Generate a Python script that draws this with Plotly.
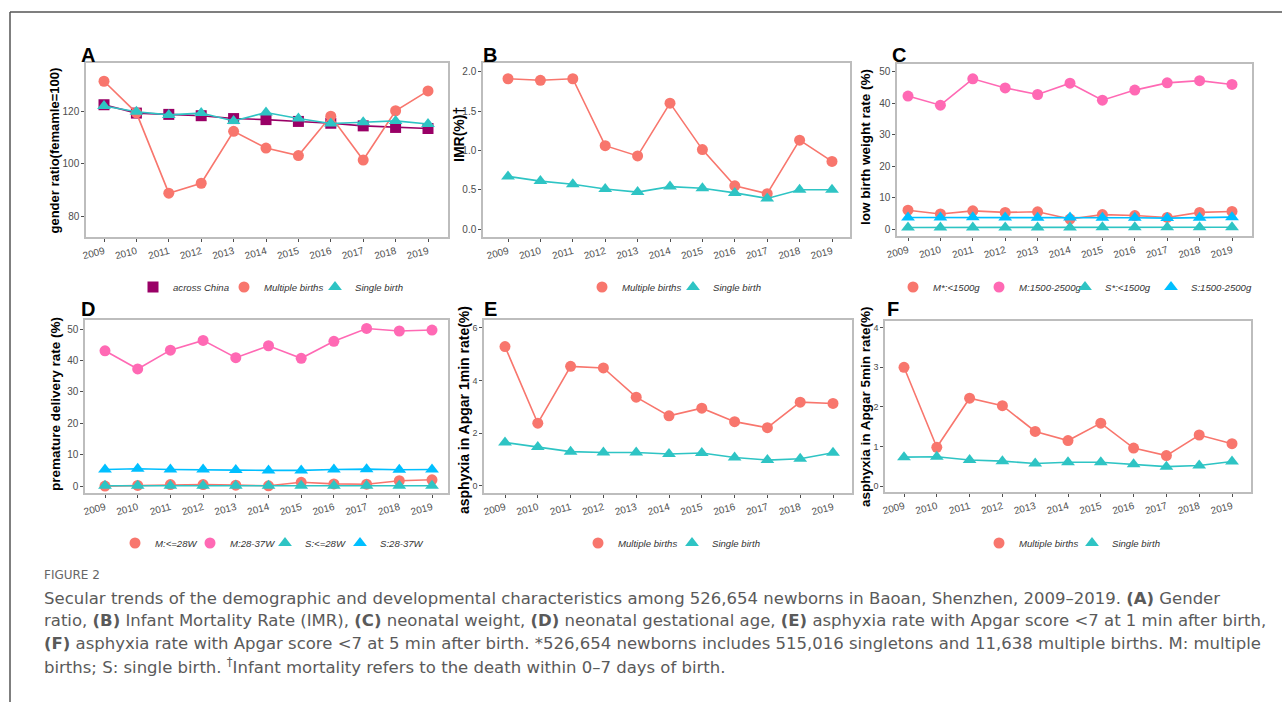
import plotly.graph_objects as go

W, H = 1282, 702

years = [2009, 2010, 2011, 2012, 2013, 2014, 2015, 2016, 2017, 2018, 2019]

# Panel A: gender ratio
a_china = [122.7, 119.5, 119.0, 118.5, 117.4, 117.0, 116.3, 115.6, 114.6, 114.0, 113.6]
a_multiple = [131.7, 119.6, 88.8, 92.6, 112.5, 106.1, 103.2, 118.3, 101.5, 120.4, 128.0]
a_single = [122.2, 120.0, 118.8, 119.5, 116.5, 119.7, 117.4, 115.5, 116.0, 116.5, 115.3]

# Panel B: IMR
b_multiple = [1.91, 1.89, 1.91, 1.06, 0.93, 1.60, 1.01, 0.55, 0.45, 1.13, 0.86]
b_single = [0.67, 0.61, 0.57, 0.51, 0.47, 0.54, 0.52, 0.46, 0.39, 0.50, 0.50]

# Panel C: low birth weight
c_m_lt1500 = [6.0, 4.8, 5.8, 5.3, 5.5, 3.2, 4.6, 4.3, 3.7, 5.3, 5.6]
c_m_1500_2500 = [42.3, 39.4, 47.8, 44.9, 42.8, 46.4, 41.0, 44.2, 46.5, 47.2, 46.0]
c_s_lt1500 = [0.5, 0.5, 0.5, 0.5, 0.5, 0.5, 0.6, 0.6, 0.6, 0.6, 0.6]
c_s_1500_2500 = [3.7, 3.7, 3.8, 3.7, 3.6, 3.7, 3.6, 3.6, 3.5, 3.6, 3.8]

# Panel D: premature delivery
d_m_le28 = [0.0, 0.2, 0.5, 0.5, 0.3, 0.1, 1.2, 0.7, 0.6, 1.7, 2.0]
d_m_28_37 = [43.1, 37.3, 43.3, 46.4, 40.9, 44.7, 40.7, 46.1, 50.2, 49.4, 49.7]
d_s_le28 = [0.1, 0.1, 0.1, 0.1, 0.1, 0.1, 0.1, 0.1, 0.1, 0.1, 0.1]
d_s_28_37 = [5.3, 5.5, 5.3, 5.3, 5.1, 5.0, 5.0, 5.3, 5.4, 5.2, 5.3]

# Panel E: asphyxia Apgar 1 min
e_multiple = [5.29, 2.38, 4.54, 4.48, 3.37, 2.66, 2.95, 2.44, 2.21, 3.18, 3.13]
e_single = [1.65, 1.48, 1.30, 1.27, 1.27, 1.21, 1.25, 1.08, 0.98, 1.03, 1.26]

# Panel F: asphyxia Apgar 5 min
f_multiple = [3.00, 0.98, 2.22, 2.03, 1.38, 1.15, 1.59, 0.96, 0.77, 1.29, 1.07]
f_single = [0.73, 0.74, 0.66, 0.63, 0.57, 0.60, 0.60, 0.55, 0.49, 0.52, 0.62]

SALMON = "#F8766D"
TEAL = "#2EC4C4"
PURPLE = "#990066"
PINK = "#FF69B4"
SKY = "#00BFFF"


def xp(x):
    return x / W


def yp(y):
    return 1 - y / H


fig = go.Figure()

# bl/br: box edges px; x0/x1: pixel of 2009 / 2019; leg0: first legend marker px; legsp: spacing
panels = [
    dict(bl=86, br=448, x0=104, x1=428, yt=63, yb=237, yr=[72, 138.7], tv=[80, 100, 120], tt=None,
         title="gender ratio(femamle=100)", tx=53.5, ty=151, tfont=13, letter="A", lx=79, ly=55,
         leg0=153, legsp=91, legy=287, tfs=10),
    dict(bl=483, br=850, x0=508, x1=832, yt=63, yb=237, yr=[-0.1, 2.11], tv=[0, 0.5, 1, 1.5, 2],
         tt=["0.0", "0.5", "1.0", "1.5", "2.0"],
         title="IMR(%)†", tx=459, ty=135, tfont=14, letter="B", lx=481, ly=55,
         leg0=602, legsp=91, legy=287, tfs=10),
    dict(bl=897, br=1252, x0=908, x1=1232, yt=64, yb=236, yr=[-2.2, 52.5],
         tv=[0, 10, 20, 30, 40, 50], tt=None,
         title="low birth weight rate (%)", tx=865, ty=147, tfont=13.5, letter="C", lx=890, ly=55,
         leg0=913, legsp=86, legy=287, tfs=10),
    dict(bl=85, br=448, x0=105, x1=432, yt=320, yb=493, yr=[-2.2, 52.9],
         tv=[0, 10, 20, 30, 40, 50], tt=None,
         title="premature delivery rate (%)", tx=55, ty=404, tfont=13.5, letter="D", lx=79, ly=309,
         leg0=135, legsp=75, legy=543, tfs=10),
    dict(bl=484, br=852, x0=505, x1=833, yt=320, yb=493, yr=[-0.27, 6.3], tv=[0, 2, 4, 6], tt=None,
         title="asphyxia in Apgar 1min rate(%)", tx=464, ty=410, tfont=14, letter="E", lx=482, ly=309,
         leg0=598, legsp=94, legy=543, tfs=9),
    dict(bl=885, br=1251, x0=904, x1=1232, yt=321, yb=492, yr=[-0.15, 4.17], tv=[0, 1, 2, 3, 4],
         tt=None,
         title="asphyxia in Apgar 5min rate(%)", tx=865, ty=407, tfont=13.5, letter="F", lx=885, ly=309,
         leg0=999, legsp=93, legy=543, tfs=9),
]

series = [
    [("across China", a_china, PURPLE, "square"),
     ("Multiple births", a_multiple, SALMON, "circle"),
     ("Single birth", a_single, TEAL, "triangle-up")],
    [("Multiple births", b_multiple, SALMON, "circle"),
     ("Single birth", b_single, TEAL, "triangle-up")],
    [("M*:<1500g", c_m_lt1500, SALMON, "circle"),
     ("M:1500-2500g", c_m_1500_2500, PINK, "circle"),
     ("S*:<1500g", c_s_lt1500, TEAL, "triangle-up"),
     ("S:1500-2500g", c_s_1500_2500, SKY, "triangle-up")],
    [("M:<=28W", d_m_le28, SALMON, "circle"),
     ("M:28-37W", d_m_28_37, PINK, "circle"),
     ("S:<=28W", d_s_le28, TEAL, "triangle-up"),
     ("S:28-37W", d_s_28_37, SKY, "triangle-up")],
    [("Multiple births", e_multiple, SALMON, "circle"),
     ("Single birth", e_single, TEAL, "triangle-up")],
    [("Multiple births", f_multiple, SALMON, "circle"),
     ("Single birth", f_single, TEAL, "triangle-up")],
]

annotations = []
layout_extra = {}

for i, (p, ser) in enumerate(zip(panels, series)):
    n = i + 1
    xa = "xaxis" if n == 1 else f"xaxis{n}"
    ya = "yaxis" if n == 1 else f"yaxis{n}"
    xref = "x" if n == 1 else f"x{n}"
    yref = "y" if n == 1 else f"y{n}"
    leg = "legend" if n == 1 else f"legend{n}"
    tickfont = dict(family="Liberation Sans, Arial, sans-serif", size=p["tfs"], color="#4D4D4D")
    step = (p["x1"] - p["x0"]) / 10.0
    rl = years[0] - (p["x0"] - p["bl"]) / step
    rr = years[-1] + (p["br"] - p["x1"]) / step
    layout_extra[xa] = dict(
        domain=[xp(p["bl"]), xp(p["br"])], anchor=yref, range=[rl, rr],
        tickvals=years, ticktext=[str(y) for y in years], tickangle=-15,
        showline=True, mirror=True, linecolor="#BDBDBD", linewidth=1.5,
        ticks="outside", ticklen=3, tickcolor="#4D4D4D", tickwidth=1,
        showgrid=False, zeroline=False, automargin=False,
        tickfont=dict(family="Liberation Sans, Arial, sans-serif", size=10, color="#4D4D4D"),
    )
    ydict = dict(
        domain=[yp(p["yb"]), yp(p["yt"])], anchor=xref, range=p["yr"],
        tickvals=p["tv"],
        showline=True, mirror=True, linecolor="#BDBDBD", linewidth=1.5,
        ticks="outside", ticklen=3, tickcolor="#4D4D4D", tickwidth=1,
        showgrid=False, zeroline=False, automargin=False, tickfont=tickfont,
    )
    if p["tt"]:
        ydict["ticktext"] = p["tt"]
    layout_extra[ya] = ydict
    layout_extra[leg] = dict(
        orientation="h", x=xp(p["leg0"] - 20), y=yp(p["legy"]), xanchor="left", yanchor="middle",
        xref="paper", yref="paper", bgcolor="rgba(0,0,0,0)",
        font=dict(family="Liberation Sans, Arial, sans-serif", size=9.6, color="#333333",
                  style="italic"),
        itemsizing="trace", entrywidth=p["legsp"] - 45, entrywidthmode="pixels",
        itemclick=False, itemdoubleclick=False,
    )
    for name, vals, col, sym in ser:
        msize = 12 if sym == "triangle-up" else 11
        fig.add_trace(go.Scatter(
            x=years, y=vals, name=name, mode="lines+markers",
            line=dict(color=col, width=1.6),
            marker=dict(color=col, symbol=sym, size=msize),
            xaxis=xref, yaxis=yref, showlegend=False,
        ))
    for name, vals, col, sym in ser:
        msize = 12 if sym == "triangle-up" else 11
        fig.add_trace(go.Scatter(
            x=[None], y=[None], name=name, mode="markers",
            marker=dict(color=col, symbol=sym, size=msize),
            xaxis=xref, yaxis=yref, legend=leg, showlegend=True, hoverinfo="skip",
        ))
    # empty trailing legend slot so that the last label is not clipped
    fig.add_trace(go.Scatter(
        x=[None], y=[None], name=" ", mode="markers",
        marker=dict(color="white", size=1, opacity=0),
        xaxis=xref, yaxis=yref, legend=leg, showlegend=True, hoverinfo="skip",
    ))
    annotations.append(dict(
        x=xp(p["tx"]), y=yp(p["ty"]), xref="paper", yref="paper", text="<b>" + p["title"] + "</b>",
        textangle=-90, showarrow=False, xanchor="center", yanchor="middle",
        font=dict(family="Liberation Sans, Arial, sans-serif", size=p["tfont"], color="black"),
    ))
    annotations.append(dict(
        x=xp(p["lx"]), y=yp(p["ly"]), xref="paper", yref="paper", text="<b>" + p["letter"] + "</b>",
        showarrow=False, xanchor="left", yanchor="middle",
        font=dict(family="Liberation Sans, Arial, sans-serif", size=20, color="black"),
    ))

cap_font = dict(family="DejaVu Sans, sans-serif", size=16.5, color="#5A5A5A")
annotations.append(dict(
    x=xp(42), y=yp(575), xref="paper", yref="paper", text="FIGURE 2", showarrow=False,
    xanchor="left", yanchor="middle",
    font=dict(family="DejaVu Sans, sans-serif", size=12, color="#666666"),
))
caption_lines = [
    "Secular trends of the demographic and developmental characteristics among 526,654 newborns in Baoan, Shenzhen, 2009–2019. <b>(A)</b> Gender",
    "ratio, <b>(B)</b> Infant Mortality Rate (IMR), <b>(C)</b> neonatal weight, <b>(D)</b> neonatal gestational age, <b>(E)</b> asphyxia rate with Apgar score &lt;7 at 1 min after birth,",
    "<b>(F)</b> asphyxia rate with Apgar score &lt;7 at 5 min after birth. *526,654 newborns includes 515,016 singletons and 11,638 multiple births. M: multiple",
    "births; S: single birth. <sup>†</sup>Infant mortality refers to the death within 0–7 days of birth.",
]
for k, line in enumerate(caption_lines):
    annotations.append(dict(
        x=xp(42), y=yp(598 + 22.5 * k), xref="paper", yref="paper", text=line, showarrow=False,
        xanchor="left", yanchor="middle", font=cap_font,
    ))

shapes = [
    dict(type="line", xref="paper", yref="paper", x0=xp(10), x1=1.0, y0=yp(12), y1=yp(12),
         line=dict(color="#555555", width=1.5)),
    dict(type="line", xref="paper", yref="paper", x0=xp(10), x1=xp(10), y0=yp(12), y1=0,
         line=dict(color="#555555", width=1.5)),
]

fig.update_layout(
    width=W, height=H, margin=dict(l=0, r=0, t=0, b=0, autoexpand=False),
    paper_bgcolor="white", plot_bgcolor="white",
    annotations=annotations, shapes=shapes,
    **layout_extra,
)

fig.write_html("out.html", config={"displayModeBar": False},
               post_script="document.body.style.margin='0';")
